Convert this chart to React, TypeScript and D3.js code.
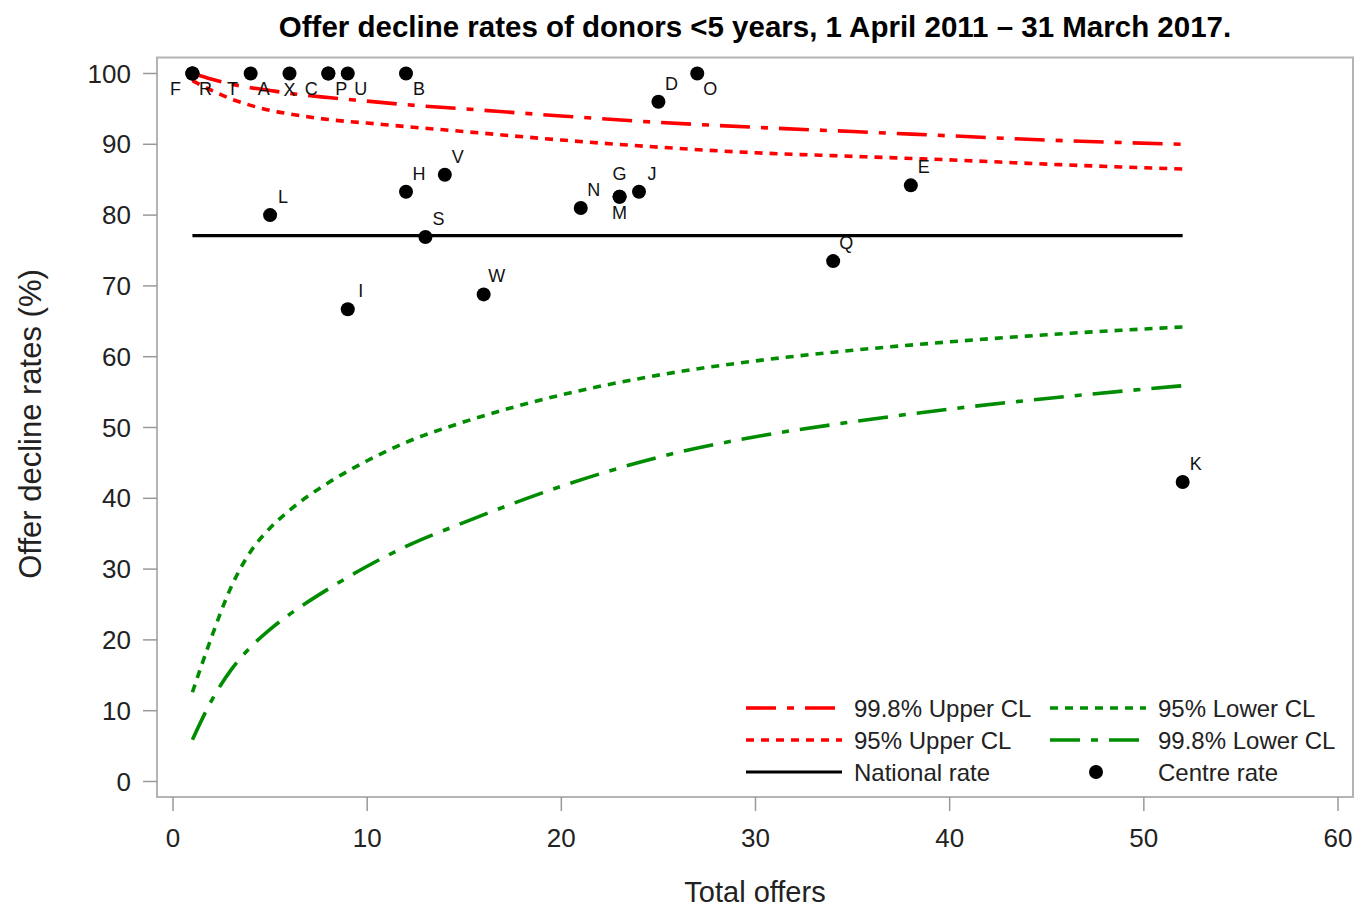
import React from "react";
import * as d3 from "d3";

// ---------- data ----------
const centres = ["F","R","T","A","X","C","P","U","B","O","D","L","I","H","S","V","W","N","G","M","J","Q","E","K"];
const centreOffers = [1,1,1,4,6,8,8,9,12,27,25,5,9,12,13,14,16,21,23,23,24,34,38,52];
const centreRates = [100,100,100,100,100,100,100,100,100,100,96.0,80.0,66.7,83.3,76.9,85.7,68.8,81.0,82.6,82.6,83.3,73.5,84.2,42.3];

const nationalRate = 77.1;
const nationalRange = [1, 52];

const limitOffers = [1,2,3,4,5,6,8,10,12,15,20,25,30,35,40,45,52];
const upper998 = [100,99.2,98.5,98.0,97.6,97.2,96.6,96.1,95.6,95.0,94.0,93.1,92.4,91.8,91.2,90.6,90.0];
const upper95 = [99.0,97.6,96.4,95.5,94.8,94.3,93.5,93.0,92.5,91.8,90.6,89.6,88.8,88.3,87.8,87.2,86.5];
const lower95 = [12.6,20.5,27.5,32.5,35.8,38.3,42.2,45.3,47.9,50.8,54.6,57.4,59.4,60.9,62.1,63.1,64.2];
const lower998 = [5.9,11.5,15.8,19.0,21.5,23.6,27.2,30.4,33.2,36.6,41.7,45.8,48.7,50.8,52.6,54.1,55.9];

const xTicks = [0,10,20,30,40,50,60];
const yTicks = [0,10,20,30,40,50,60,70,80,90,100];

// label placement (layout only)
const labelPlacement: Record<string,string> = {
  F:"ll", R:"lr", T:"lrfar", A:"lr", X:"b", C:"ll", P:"lr", U:"lr", B:"lr", O:"lr",
  G:"a", M:"b",
};
const placementOffsets: Record<string,[number,number]> = {
  ur:[13,-12], lr:[13,21], ll:[-17,21], b:[0,22], a:[0,-17], lrfar:[40,21],
};

const RED = "#ff0000";
const GREEN = "#008c00";
const FONT = "'Liberation Sans', Arial, sans-serif";
const DASHDOT = "30,11,7,11";
const DOTTED = "8,7";

const series = [
  { name: "99.8% Upper CL", values: upper998, color: RED, dash: DASHDOT },
  { name: "95% Upper CL", values: upper95, color: RED, dash: DOTTED },
  { name: "95% Lower CL", values: lower95, color: GREEN, dash: DOTTED },
  { name: "99.8% Lower CL", values: lower998, color: GREEN, dash: DASHDOT },
];

export default function App() {
  const W = 1355, H = 908;
  const frame = { left: 157, right: 1353, top: 57.5, bottom: 797 };
  const x = d3.scaleLinear().domain([0, 60]).range([173, 1338]);
  const y = d3.scaleLinear().domain([0, 100]).range([781.5, 73.5]);

  const line = d3.line<[number, number]>()
    .x(d => x(d[0]))
    .y(d => y(d[1]))
    .curve(d3.curveMonotoneX);

  const legendRows = [
    [{ type: "line", s: series[0] }, { type: "line", s: series[2] }],
    [{ type: "line", s: series[1] }, { type: "line", s: series[3] }],
    [{ type: "national" }, { type: "point" }],
  ];
  const legendCols = [746, 1050];
  const legendY0 = 708;
  const legendDy = 32;

  return (
    <div style={{ position: "absolute", left: 0, top: 0 }}>
      <svg width={W} height={H} style={{ display: "block", background: "#fff" }} fontFamily={FONT}>
        <rect x={0} y={0} width={W} height={H} fill="#fff" />
        {/* title */}
        <text x={755} y={37} textAnchor="middle" fontSize={29.5} fontWeight="bold" fill="#000">
          Offer decline rates of donors &lt;5 years, 1 April 2011 – 31 March 2017.
        </text>

        {/* frame */}
        <rect x={frame.left} y={frame.top} width={frame.right - frame.left} height={frame.bottom - frame.top}
          fill="none" stroke="#b4b4b4" strokeWidth={2} />

        {/* y axis */}
        {yTicks.map(t => (
          <g key={"y" + t}>
            <line x1={143} x2={frame.left} y1={y(t)} y2={y(t)} stroke="#999" strokeWidth={1.5} />
            <text x={131} y={y(t) + 9} textAnchor="end" fontSize={26} fill="#222">{t}</text>
          </g>
        ))}
        {/* x axis */}
        {xTicks.map(t => (
          <g key={"x" + t}>
            <line x1={x(t)} x2={x(t)} y1={frame.bottom} y2={811} stroke="#999" strokeWidth={1.5} />
            <text x={x(t)} y={847} textAnchor="middle" fontSize={26} fill="#222">{t}</text>
          </g>
        ))}
        <text x={755} y={902} textAnchor="middle" fontSize={29} fill="#222">Total offers</text>
        <text transform={`translate(41,424) rotate(-90)`} textAnchor="middle" fontSize={31} fill="#222">
          Offer decline rates (%)
        </text>

        {/* control limits */}
        {series.map(s => (
          <path key={s.name}
            d={line(limitOffers.map((n, i) => [n, s.values[i]] as [number, number])) || ""}
            fill="none" stroke={s.color} strokeWidth={3.6} strokeDasharray={s.dash} />
        ))}

        {/* national rate */}
        <line x1={x(nationalRange[0])} x2={x(nationalRange[1])} y1={y(nationalRate)} y2={y(nationalRate)}
          stroke="#000" strokeWidth={3.2} />

        {/* centres */}
        {centres.map((c, i) => (
          <circle key={"p" + c} cx={x(centreOffers[i])} cy={y(centreRates[i])} r={7} fill="#000" />
        ))}
        {centres.map((c, i) => {
          const [dx, dy] = placementOffsets[labelPlacement[c] || "ur"];
          return (
            <text key={"l" + c} x={x(centreOffers[i]) + dx} y={y(centreRates[i]) + dy}
              textAnchor="middle" fontSize={18} fill="#111">{c}</text>
          );
        })}

        {/* legend */}
        {legendRows.map((row, ri) => row.map((item: any, ci) => {
          const lx = legendCols[ci];
          const ly = legendY0 + ri * legendDy;
          let label = "";
          let mark: any = null;
          if (item.type === "line") {
            label = item.s.name;
            mark = <line x1={lx} x2={lx + 96} y1={ly} y2={ly} stroke={item.s.color} strokeWidth={3.6}
              strokeDasharray={item.s.dash} />;
          } else if (item.type === "national") {
            label = "National rate";
            mark = <line x1={lx} x2={lx + 96} y1={ly} y2={ly} stroke="#000" strokeWidth={3.2} />;
          } else {
            label = "Centre rate";
            mark = <circle cx={lx + 46} cy={ly} r={7} fill="#000" />;
          }
          return (
            <g key={`lg${ri}-${ci}`}>
              {mark}
              <text x={lx + 108} y={ly + 8.5} fontSize={24} fill="#222">{label}</text>
            </g>
          );
        }))}
      </svg>
    </div>
  );
}
